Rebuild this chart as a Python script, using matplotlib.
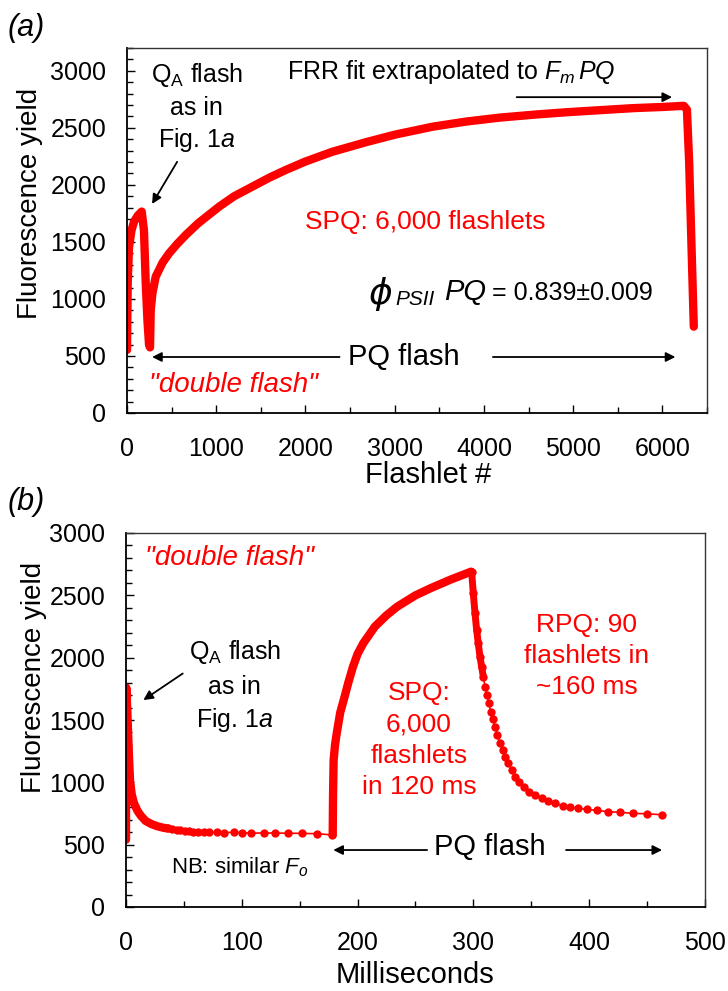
import matplotlib
matplotlib.use('Agg')
import matplotlib.pyplot as plt
from matplotlib.ticker import MultipleLocator

plt.rcParams['font.family'] = ['Liberation Sans', 'DejaVu Sans']
plt.rcParams['mathtext.fontset'] = 'custom'
plt.rcParams['mathtext.rm'] = 'Liberation Sans'
plt.rcParams['mathtext.it'] = 'Liberation Sans:italic'
plt.rcParams['mathtext.bf'] = 'Liberation Sans:bold'
plt.rcParams['mathtext.sf'] = 'Liberation Sans'

RED = '#ff0000'

# (a) double flash vs flashlet number
a_flashlet = [0, 3, 8, 22, 50, 79, 120, 165, 190, 210, 230, 247, 258, 266, 285, 322,
              400, 472, 560, 659, 800, 1034, 1200, 1408, 1600, 1783, 2000, 2300, 2682,
              3000, 3431, 3800, 4180, 4600, 4929, 5300, 5678, 6000, 6240, 6275, 6300,
              6325, 6352]
a_yield = [553, 800, 1138, 1450, 1600, 1678, 1730, 1766, 1600, 1138, 800, 600, 575, 903,
           1050, 1196, 1320, 1400, 1480, 1561, 1665, 1810, 1900, 1986, 2065, 2132, 2205,
           2290, 2375, 2440, 2511, 2555, 2590, 2618, 2637, 2655, 2673, 2683, 2693, 2660,
           2200, 1500, 757]

# (b) same thing vs time
qa_t = [0, 0, 0.2, 0.4, 1.0, 1.8, 2.6, 3.5, 5, 7, 10, 13, 17, 22, 27, 32, 36]
qa_y = [540, 1200, 1760, 1740, 1600, 1400, 1200, 1010, 900, 830, 770, 730, 690, 665,
        648, 636, 630]

dark_t = [36, 40, 44, 47, 51, 54, 58, 62, 67, 72, 79, 85, 93, 100, 108, 119, 129, 140,
          152, 165, 178]
dark_y = [630, 625, 620, 615, 612, 608, 605, 603, 600, 598, 600, 597, 600, 596, 592, 594,
          593, 592, 590, 588, 578]

spq_t = [178.5, 178.8, 179.3, 180.5, 182, 185, 188, 192, 196, 200, 205, 215, 225, 234,
         250, 263, 280, 298]
spq_y = [578, 900, 1180, 1300, 1395, 1560, 1660, 1800, 1927, 2030, 2117, 2250, 2340, 2408,
         2500, 2557, 2625, 2690]

rpq_t = [298.5, 299.9, 301.4, 302.8, 304.2, 305.7, 307.1, 308.6, 310.0, 311.5, 313.5,
         314.9, 316.6, 318.7, 320.6, 323.0, 325.3, 327.5, 330.1, 333.1, 336.2, 339.7,
         343.7, 348.0, 353.2, 359.0, 364.7, 370.5, 377.1, 383.4, 390.6, 398.4, 407.0,
         416.5, 426.6, 437.6, 449.6, 462.6]
rpq_y = [2690, 2516, 2355, 2221, 2115, 2007, 1927, 1847, 1767, 1700, 1633, 1566, 1505,
         1446, 1379, 1313, 1259, 1206, 1152, 1099, 1045, 1005, 965, 925, 898, 872, 850,
         832, 813, 800, 791, 783, 775, 764, 760, 751, 748, 740]

fig = plt.figure(figsize=(7.28, 9.91), dpi=100)
axa = fig.add_axes([127/728, 1 - 413/991, 580/728, 365/991])
axb = fig.add_axes([126/728, 1 - 907/991, 579/728, 374/991])


def style_axis(ax):
    ax.tick_params(which='both', direction='in', top=False, right=False, labelsize=18,
                   width=1.0, color='k')
    ax.tick_params(which='major', length=6)
    ax.tick_params(which='minor', length=4)
    ax.tick_params(axis='x', pad=17)
    ax.tick_params(axis='y', pad=15)
    for s in ['left', 'bottom']:
        ax.spines[s].set_linewidth(1.3)
    for s in ['top', 'right']:
        ax.spines[s].set_linewidth(1.0)
        ax.spines[s].set_color('#333333')


def arrow(ax, tail, tip):
    ax.annotate('', xy=tip, xytext=tail,
                arrowprops=dict(arrowstyle='-|>', color='k', lw=1.3, mutation_scale=14,
                                shrinkA=0, shrinkB=0))


# ---- panel (a)
axa.plot(a_flashlet, a_yield, color=RED, lw=6, solid_capstyle='round',
         solid_joinstyle='round')
axa.set_xlim(0, 6500)
axa.set_ylim(0, 3200)
axa.set_xticks(range(0, 7000, 1000))
axa.set_yticks(range(0, 3001, 500))
axa.xaxis.set_minor_locator(MultipleLocator(500))
axa.yaxis.set_minor_locator(MultipleLocator(100))
style_axis(axa)

axa.text(-0.167, 0.575, 'Fluorescence yield', transform=axa.transAxes, rotation=90,
         ha='center', va='center', fontsize=20)
axa.text(0.52, -0.17, 'Flashlet #', transform=axa.transAxes, ha='center', va='center',
         fontsize=21)

axa.text(781, 2904, r'Q$_\mathregular{A}$ flash', ha='center', va='baseline', fontsize=18)
axa.text(781, 2614, 'as in', ha='center', va='baseline', fontsize=18)
axa.text(781, 2333, r'Fig. 1$a$', ha='center', va='baseline', fontsize=18)
arrow(axa, (562, 2202), (281, 1833))

axa.text(1798, 2991, r'FRR fit extrapolated to $F_m\,PQ$', ha='left', va='center',
         fontsize=18)
arrow(axa, (4367, 2769), (6109, 2769))

axa.text(3337, 1675, 'SPQ: 6,000 flashlets', color=RED, ha='center', va='center',
         fontsize=19)

axa.text(2843, 1040, 'ϕ', fontsize=26, style='italic', ha='center', va='center',
         family=['DejaVu Sans'])
axa.text(3011, 950, 'PSII', fontsize=15, style='italic', ha='left', va='baseline')
axa.text(3550, 991, 'PQ', fontsize=21, style='italic', ha='left', va='baseline')
axa.text(4090, 991, '= 0.839±0.009', fontsize=18, ha='left', va='baseline')

axa.text(3101, 491, 'PQ flash', fontsize=21, ha='center', va='center')
arrow(axa, (2382, 491), (281, 491))
arrow(axa, (4101, 491), (6146, 491))

axa.text(1191, 246, '"double flash"', color=RED, style='italic', fontsize=20,
         ha='center', va='center')

# ---- panel (b)
axb.plot(qa_t, qa_y, color=RED, lw=6, solid_capstyle='round', solid_joinstyle='round')
axb.plot(dark_t, dark_y, color=RED, lw=1.2, marker='o', ms=6, mew=0)
axb.plot(spq_t, spq_y, color=RED, lw=6, solid_capstyle='round', solid_joinstyle='round')
axb.plot(rpq_t[:8], rpq_y[:8], color=RED, lw=5, solid_capstyle='round')
axb.plot(rpq_t, rpq_y, color=RED, lw=1.2, marker='o', ms=6, mew=0)
axb.set_xlim(0, 500)
axb.set_ylim(0, 3000)
axb.set_xticks(range(0, 501, 100))
axb.set_yticks(range(0, 3001, 500))
axb.xaxis.set_minor_locator(MultipleLocator(50))
axb.yaxis.set_minor_locator(MultipleLocator(100))
style_axis(axb)

axb.text(-0.159, 0.615, 'Fluorescence yield', transform=axb.transAxes, rotation=90,
         ha='center', va='center', fontsize=20)
axb.text(0.5, -0.182, 'Milliseconds', transform=axb.transAxes, ha='center', va='center',
         fontsize=21)

axb.text(89, 2799, '"double flash"', color=RED, style='italic', fontsize=20,
         ha='center', va='center')

axb.text(94, 1989, r'Q$_\mathregular{A}$ flash', ha='center', va='baseline', fontsize=18)
axb.text(94, 1708, 'as in', ha='center', va='baseline', fontsize=18)
axb.text(94, 1443, r'Fig. 1$a$', ha='center', va='baseline', fontsize=18)
arrow(axb, (49, 1873), (15, 1660))

axb.text(98, 321, r'NB: similar $F_o$', ha='center', va='center', fontsize=16)

for yy, s in zip([1660, 1406, 1152, 906], ['SPQ:', '6,000', 'flashlets', 'in 120 ms']):
    axb.text(253, yy, s, color=RED, ha='center', va='baseline', fontsize=19)
for yy, s in zip([2208, 1954, 1706], ['RPQ: 90', 'flashlets in', '~160 ms']):
    axb.text(398, yy, s, color=RED, ha='center', va='baseline', fontsize=19)

axb.text(314, 483, 'PQ flash', fontsize=21, ha='center', va='center')
arrow(axb, (260, 457), (179, 457))
arrow(axb, (380, 457), (463, 457))

fig.text(8/728, 1 - 28/991, '(a)', fontsize=22, style='italic', ha='left', va='center')
fig.text(8/728, 1 - 502/991, '(b)', fontsize=22, style='italic', ha='left', va='center')

fig.savefig('out.png', dpi=100)
